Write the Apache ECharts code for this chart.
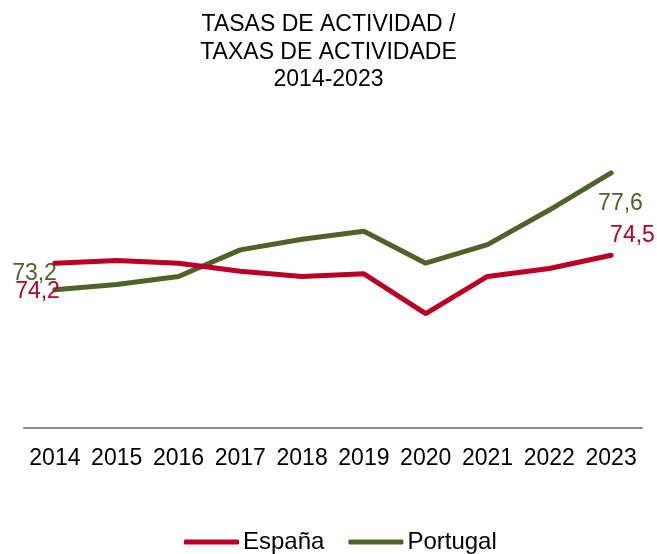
<!DOCTYPE html>
<html>
<head>
<meta charset="utf-8">
<script src="https://cdn.jsdelivr.net/npm/echarts@6/dist/echarts.min.js"></script>
<style>
  html, body { margin: 0; padding: 0; background: #fff; }
  #chart { width: 657px; height: 554px; }
</style>
</head>
<body>
<div id="chart"></div>
<script>
  const years = ['2014', '2015', '2016', '2017', '2018', '2019', '2020', '2021', '2022', '2023']
  const espana = [74.2, 74.3, 74.2, 73.9, 73.7, 73.8, 72.3, 73.7, 74.0, 74.5]
  const portugal = [73.2, 73.4, 73.7, 74.7, 75.1, 75.4, 74.2, 74.9, 76.2, 77.6]

  const red = '#bc0025'
  const green = '#4f6228'
  const fmt = p => String(p.value).replace('.', ',')

  // solo se etiquetan el primer y el último punto
  function withEndLabels (arr, color, first, last) {
    return arr.map((v, i) => {
      if (i === 0) return { value: v, label: Object.assign({ show: true, color: color, formatter: fmt }, first) }
      if (i === arr.length - 1) return { value: v, label: Object.assign({ show: true, color: color, formatter: fmt }, last) }
      return v
    })
  }

  const chart = echarts.init(document.getElementById('chart'))
  chart.setOption({
    animation: false,
    textStyle: { fontFamily: 'Liberation Sans, Arial, sans-serif' },
    title: {
      text: 'TASAS DE ACTIVIDAD /\nTAXAS DE ACTIVIDADE\n2014-2023',
      left: 'center',
      top: 6,
      textStyle: { fontSize: 23, fontWeight: 'normal', color: '#000', lineHeight: 27.5 }
    },
    legend: {
      top: 525,
      left: 179,
      itemWidth: 55,
      itemHeight: 5,
      itemGap: 24,
      icon: 'roundRect',
      textStyle: { fontSize: 24, color: '#000', padding: [0, 0, 0, -1] },
      data: ['España', 'Portugal']
    },
    grid: { left: 24, right: 15, top: 109, bottom: 126 },
    xAxis: {
      type: 'category',
      data: years,
      boundaryGap: true,
      axisLine: { lineStyle: { color: '#888', width: 2 } },
      axisTick: { show: false },
      axisLabel: { fontSize: 23, color: '#000', margin: 19, interval: 0, hideOverlap: false }
    },
    yAxis: {
      type: 'value',
      min: 68,
      max: 80,
      show: false,
      splitLine: { show: false }
    },
    series: [
      {
        name: 'España',
        type: 'line',
        data: withEndLabels(espana, red,
          { position: 'left', distance: 0, offset: [5, 28], fontSize: 23 },
          { position: 'right', distance: 0, offset: [-1, -20], fontSize: 23 }),
        lineStyle: { color: red, width: 5, cap: 'round' },
        itemStyle: { color: red },
        symbol: 'circle',
        symbolSize: 0,
        showSymbol: true,
        z: 3
      },
      {
        name: 'Portugal',
        type: 'line',
        data: withEndLabels(portugal, green,
          { position: 'left', distance: 0, offset: [2, -16], fontSize: 23 },
          { position: 'right', distance: 0, offset: [-13, 31], fontSize: 23 }),
        lineStyle: { color: green, width: 5, cap: 'round' },
        itemStyle: { color: green },
        symbol: 'circle',
        symbolSize: 0,
        showSymbol: true,
        z: 2
      }
    ]
  })
</script>
</body>
</html>
